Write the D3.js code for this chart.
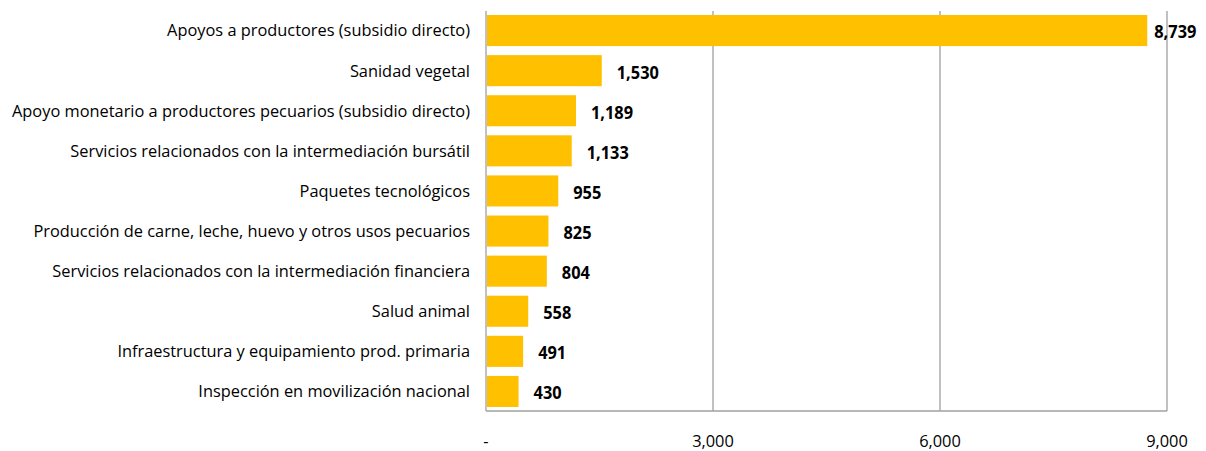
<!DOCTYPE html>
<html>
<head>
<meta charset="utf-8">
<script src="https://cdn.jsdelivr.net/npm/d3@7"></script>
<style>
  body { margin: 0; background: #fff; }
  text { font-family: "Open Sans", sans-serif; fill: #000; }
</style>
</head>
<body>
<div id="chart"></div>
<script>
// categories and values (top to bottom)
var categories = [
  "Apoyos a productores (subsidio directo)",
  "Sanidad vegetal",
  "Apoyo monetario a productores pecuarios (subsidio directo)",
  "Servicios relacionados con la intermediación bursátil",
  "Paquetes tecnológicos",
  "Producción de carne, leche, huevo y otros usos pecuarios",
  "Servicios relacionados con la intermediación financiera",
  "Salud animal",
  "Infraestructura y equipamiento prod. primaria",
  "Inspección en movilización nacional"
];
var values = [8739, 1530, 1189, 1133, 955, 825, 804, 558, 491, 430];
var xTicks = [0, 3000, 6000, 9000];

var width = 1206, height = 451;
var margin = {top: 11, right: 39, bottom: 40, left: 486};

var svg = d3.select("#chart")
    .append("svg")
    .attr("width", width)
    .attr("height", height);

var x = d3.scaleLinear()
    .domain([0, 9000])
    .range([margin.left, width - margin.right]);

var y = d3.scaleBand()
    .domain(categories)
    .range([margin.top, height - margin.bottom])
    .paddingInner(0.225)
    .paddingOuter(0.1);

var fmt = d3.format(",");

// squeeze text horizontally so it looks like the narrow Calibri of the original
function squeeze(sel, factor) {
    sel.each(function() {
        var w = this.getComputedTextLength();
        d3.select(this)
            .attr("textLength", w * factor)
            .attr("lengthAdjust", "spacingAndGlyphs");
    });
}

// vertical gridlines
svg.append("g")
    .selectAll("line")
    .data(xTicks.slice(1))
    .enter()
    .append("line")
    .attr("x1", function(d) { return x(d); })
    .attr("x2", function(d) { return x(d); })
    .attr("y1", margin.top)
    .attr("y2", height - margin.bottom)
    .style("stroke", "#a0a0a0")
    .style("stroke-width", 1.3);

// bars
svg.append("g")
    .selectAll("rect")
    .data(values)
    .enter()
    .append("rect")
    .attr("x", x(0) + 1)
    .attr("y", function(d, i) { return y(categories[i]); })
    .attr("width", function(d) { return x(d) - x(0) - 1; })
    .attr("height", y.bandwidth())
    .style("fill", "#FFC000");

// axes lines
svg.append("line")
    .attr("x1", x(0)).attr("x2", x(0))
    .attr("y1", margin.top).attr("y2", height - margin.bottom)
    .style("stroke", "#a0a0a0").style("stroke-width", 1.3);
svg.append("line")
    .attr("x1", x(0)).attr("x2", x(9000))
    .attr("y1", height - margin.bottom).attr("y2", height - margin.bottom)
    .style("stroke", "#a0a0a0").style("stroke-width", 1.3);

// category labels
var catLabels = svg.append("g")
    .selectAll("text")
    .data(categories)
    .enter()
    .append("text")
    .attr("x", x(0) - 16)
    .attr("y", function(d) { return y(d) + y.bandwidth() / 2; })
    .attr("dy", "0.35em")
    .attr("text-anchor", "end")
    .style("font-size", "17px")
    .text(function(d) { return d; });

// fit the longest label into the space of the original (about 458px)
var maxW = 0;
catLabels.each(function() { maxW = Math.max(maxW, this.getComputedTextLength()); });
var factor = 458 / maxW;
squeeze(catLabels, factor);

// value labels
var valLabels = svg.append("g")
    .selectAll("text")
    .data(values)
    .enter()
    .append("text")
    .attr("x", function(d, i) { return x(d) + (i === 0 ? 7 : 15); })
    .attr("y", function(d, i) { return y(categories[i]) + y.bandwidth() / 2 + 2; })
    .attr("dy", "0.35em")
    .style("font-size", "17px")
    .style("font-weight", "bold")
    .text(function(d) { return fmt(d); });
squeeze(valLabels, factor);

// tick labels
var tickLabels = svg.append("g")
    .selectAll("text")
    .data(xTicks)
    .enter()
    .append("text")
    .attr("x", function(d) { return x(d); })
    .attr("y", 441)
    .attr("dy", "0.35em")
    .attr("text-anchor", "middle")
    .style("font-size", "17px")
    .text(function(d) { return d === 0 ? "-" : fmt(d); });
squeeze(tickLabels, factor);
</script>
</body>
</html>
